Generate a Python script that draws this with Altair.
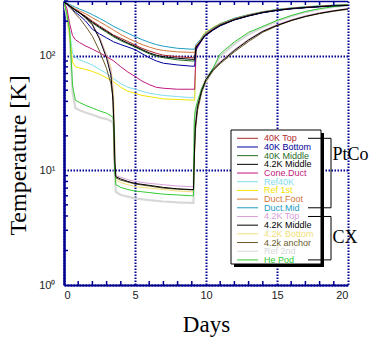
import altair as alt
import pandas as pd

# ---------------- data ----------------
keys = ["40K Top", "40K Bottom", "40K Middle", "4.2K Middle PtCo", "Cone.Duct",
        "Ref40K", "Ref 1st", "Duct.Foot", "Duct.Mid", "4.2K Top", "4.2K Middle CX",
        "4.2K Bottom", "4.2k anchor", "Ref 2nd", "He Pod"]
labels = ["40K Top", "40K Bottom", "40K Middle", "4.2K Middle", "Cone.Duct",
          "Ref40K", "Ref 1st", "Duct.Foot", "Duct.Mid", "4.2K Top", "4.2K Middle",
          "4.2K Bottom", "4.2k anchor", "Ref 2nd", "He Pod"]
colors = ["#B02A2A", "#000099", "#1F6B1F", "#000000", "#C0187C",
          "#7FDDEE", "#F2E400", "#D2773A", "#1E9DC3", "#D8A0D8", "#000000",
          "#F0E07A", "#6B5A2A", "#D8D8D8", "#33CC33"]

# PtCo / reference sensors (warm group)
t_warm = [0, 0.2, 0.4, 0.6, 0.8, 1.1, 1.5, 2.0, 2.5, 3.0, 3.5, 4.0, 4.5, 5.0, 5.5,
          6.0, 6.5, 7.0, 8.0, 9.0, 9.2, 9.3, 9.6, 9.9, 10.5, 11.0, 12.0, 13.0, 14.0,
          15.0, 16.0, 17.0, 18.0, 19.0, 20.0]
duct_mid = [292, 288, 280, 272, 265, 255, 244, 228, 212, 196, 180, 168, 157, 147, 138,
            131, 125, 121, 116, 114, 114, 125, 138, 155, 175, 190, 212, 228, 242,
            253, 261, 267, 272, 276, 279]
duct_foot = [292, 285, 275, 265, 256, 246, 233, 214, 198, 182, 167, 153, 142, 133, 125,
             119, 114, 111, 108, 107, 107, 122, 135, 152, 172, 187, 209, 226, 240,
             251, 259, 265, 270, 274, 277]
k40_top = [292, 284, 272, 261, 251, 238, 222, 200, 182, 166, 151, 142, 133, 124, 116,
           110, 105, 101, 98, 96, 96, 120, 133, 150, 170, 185, 207, 224, 239,
           250, 258, 264, 269, 273, 276]
k40_mid = [292, 283, 271, 259, 249, 235, 217, 193, 175, 160, 146, 135, 127, 119, 111,
           104, 99, 96, 92, 90, 90, 118, 132, 149, 168, 184, 206, 223, 238,
           249, 257, 263, 268, 272, 275]
k42_mid_ptco = [292, 283, 271, 260, 250, 236, 219, 196, 178, 163, 149, 138, 129, 121, 113,
                106, 101, 98, 95, 93, 93, 119, 132, 149, 169, 184, 206, 223, 238,
                249, 257, 263, 268, 272, 275]
k40_bot = [292, 280, 265, 252, 240, 224, 202, 170, 155, 143, 132, 125, 119, 113, 104,
           96, 90, 86, 83, 81, 81, 115, 130, 147, 167, 182, 205, 222, 237,
           248, 256, 262, 267, 271, 274]
cone_duct = [292, 260, 190, 150, 138, 130, 122, 114, 106, 98, 90, 80, 72, 66, 60,
             56, 53, 52, 51, 51, 51, 112, 130, 148, 168, 184, 206, 223, 238,
             249, 257, 263, 268, 272, 275]
ref40k = [292, 240, 165, 105, 97, 92, 88, 83, 76, 70, 63, 57, 53, 51, 49,
          47, 46, 45, 44, 43, 43, 110, 133, 152, 172, 188, 210, 227, 241,
          252, 260, 266, 271, 275, 278]
ref1st = [292, 235, 150, 88, 80, 78, 76, 73, 69, 64, 59, 53, 49, 47, 45,
          44, 43, 42, 41.5, 41, 41, 115, 138, 158, 177, 191, 212, 228, 242,
          252, 260, 266, 271, 275, 278]

# CX sensors and helium pod (cold group)
t_cold = [0, 0.2, 0.4, 0.6, 0.8, 1.1, 1.5, 2.0, 2.5, 3.0, 3.3, 3.45, 3.52, 3.58, 3.65,
          4.0, 4.5, 5.0, 6.0, 7.0, 8.0, 9.0, 9.12, 9.18, 9.25, 9.4, 9.7, 10.0, 10.5,
          11.0, 12.0, 13.0, 14.0, 15.0, 16.0, 17.0, 18.0, 19.0, 20.0]
k42_mid_cx = [294, 285, 272, 260, 250, 237, 215, 186, 140, 95, 68, 40, 25, 12, 8.8,
              8.4, 8.0, 7.7, 7.4, 7.1, 6.9, 6.8, 6.8, 14, 24, 36, 50, 62, 76,
              87, 111, 137, 163, 184, 203, 220, 234, 246, 256]
k42_top = [294, 285, 273, 262, 252, 239, 218, 189, 145, 100, 74, 46, 30, 14, 9.0,
           8.7, 8.3, 8.0, 7.7, 7.5, 7.3, 7.2, 7.2, 15, 25, 37, 52, 64, 78,
           89, 113, 139, 165, 187, 206, 223, 237, 248, 258]
k42_bot = [294, 285, 273, 261, 251, 238, 216, 187, 146, 102, 80, 56, 38, 16, 8.2,
           7.8, 7.5, 7.2, 7.0, 6.8, 6.6, 6.5, 6.5, 13, 23, 35, 50, 63, 77,
           88, 112, 138, 164, 186, 205, 222, 236, 247, 257]
k42_anchor = [294, 283, 269, 250, 232, 212, 182, 148, 110, 77, 57, 44, 14, 9.5, 8.6,
              8.2, 7.9, 7.6, 7.3, 7.0, 6.85, 6.75, 6.75, 13, 22, 33, 48, 60, 74,
              85, 108, 133, 160, 182, 202, 219, 233, 244, 254]
he_pod = [294, 230, 165, 55, 41, 39, 37, 35, 33, 31.5, 30, 29, 25, 10, 7.5,
          7.1, 6.8, 6.6, 6.4, 6.2, 6.1, 6.0, 6.0, 28, 34, 40, 52, 62, 78,
          104, 132, 160, 180, 203, 224, 243, 257, 268, 278]
ref2nd = [294, 220, 150, 48, 35, 33.5, 32, 30.5, 29, 28, 27, 26, 22, 9, 6.5,
          6.1, 5.9, 5.7, 5.5, 5.35, 5.25, 5.2, 5.2, 24, 31, 38, 50, 59, 76,
          99, 127, 154, 177, 200, 221, 240, 254, 266, 276]

y_minor = [2, 3, 4, 5, 6, 7, 8, 9, 20, 30, 40, 50, 60, 70, 80, 90, 200, 300]
x_minor = [1, 2, 3, 4, 6, 7, 8, 9, 11, 12, 13, 14, 16, 17, 18, 19]
groups = ["PtCo", "CX"]
group_first = [0, 9]
group_last = [8, 14]

# ---------------- build tables ----------------
series = [
    ("Ref 2nd", t_cold, ref2nd),
    ("Ref40K", t_warm, ref40k),
    ("Ref 1st", t_warm, ref1st),
    ("4.2K Bottom", t_cold, k42_bot),
    ("4.2K Top", t_cold, k42_top),
    ("Duct.Mid", t_warm, duct_mid),
    ("Duct.Foot", t_warm, duct_foot),
    ("Cone.Duct", t_warm, cone_duct),
    ("40K Top", t_warm, k40_top),
    ("40K Middle", t_warm, k40_mid),
    ("40K Bottom", t_warm, k40_bot),
    ("4.2k anchor", t_cold, k42_anchor),
    ("He Pod", t_cold, he_pod),
    ("4.2K Middle PtCo", t_warm, k42_mid_ptco),
    ("4.2K Middle CX", t_cold, k42_mid_cx),
]
rows = []
for k, ts, vs in series:
    for t, v in zip(ts, vs):
        rows.append({"key": k, "day": t, "T": v, "w": 2.2 if k == "Ref 2nd" else 1.0})
df = pd.DataFrame(rows)

NAVY = "#000090"
color_enc = alt.Color("key:N", scale=alt.Scale(domain=keys, range=colors), legend=None)
xs = alt.Scale(domain=[0, 20], nice=False, zero=False)
ys = alt.Scale(type="log", domain=[1, 300], nice=False)

x_axis = alt.Axis(values=[0, 5, 10, 15, 20], grid=True, gridColor=NAVY, gridDash=[1.5, 1.5],
                  gridWidth=2, domainColor=NAVY, domainWidth=2, ticks=False,
                  labelFont="Liberation Sans", labelFontSize=11, labelColor="#222222",
                  labelPadding=4, title="Days", titleFont="Liberation Serif",
                  titleFontSize=23, titleFontWeight="normal", titleColor="#000000",
                  titleBaseline="alphabetic", titleY=46)
y_axis = alt.Axis(values=[1, 10, 100], grid=True, gridColor=NAVY, gridDash=[1.5, 1.5],
                  gridWidth=2, domainColor=NAVY, domainWidth=2.5, ticks=False,
                  labelFont="Liberation Sans", labelFontSize=11, labelColor="#222222",
                  labelPadding=9,
                  labelExpr="datum.value == 1 ? '10\u2070' : (datum.value == 10 ? '10\u00b9' : '10\u00b2')",
                  title="Temperature [K]", titleFont="Liberation Serif", titleFontSize=24,
                  titleFontWeight="normal", titleColor="#000000", titleAngle=270,
                  titleAlign="center", titleBaseline="middle", titleX=-46, titleY=154)

lines = alt.Chart(df).mark_line(clip=True).encode(
    x=alt.X("day:Q", scale=xs, axis=x_axis),
    y=alt.Y("T:Q", scale=ys, axis=y_axis),
    color=color_enc,
    strokeWidth=alt.StrokeWidth("w:Q", scale=None, legend=None),
)

ymin_df = pd.DataFrame({"T": y_minor})
ytick = alt.Chart(ymin_df).mark_rule(color=NAVY, strokeWidth=1.5).encode(
    y=alt.Y("T:Q", scale=ys), x=alt.value(0), x2=alt.value(4))
xmin_df = pd.DataFrame({"day": x_minor})
xtick_b = alt.Chart(xmin_df).mark_rule(color=NAVY, strokeWidth=1.5).encode(
    x=alt.X("day:Q", scale=xs), y=alt.value(284), y2=alt.value(280))
xtick_t = alt.Chart(xmin_df).mark_rule(color=NAVY, strokeWidth=1.5).encode(
    x=alt.X("day:Q", scale=xs), y=alt.value(0), y2=alt.value(4))
one = pd.DataFrame({"a": [0]})
top_edge = alt.Chart(one).mark_rule(color=NAVY, strokeWidth=1.5).encode(
    x=alt.value(0), x2=alt.value(284), y=alt.value(0.5))

main = alt.layer(lines, ytick, xtick_b, xtick_t, top_edge)

# ---------------- legend ----------------
row_scale = alt.Scale(domain=[0, 14], range=[137.3, 258.9])
leg_df = pd.DataFrame({"key": keys, "label": labels, "row": list(range(len(keys)))})
shadow = alt.Chart(one).mark_rect(fill="#000000").encode(
    x=alt.value(170), x2=alt.value(260), y=alt.value(132), y2=alt.value(266))
box = alt.Chart(one).mark_rect(fill="#FFFFFF", stroke="#000000", strokeWidth=1).encode(
    x=alt.value(167), x2=alt.value(257), y=alt.value(129), y2=alt.value(263))
swatch = alt.Chart(leg_df).mark_rule(strokeWidth=1).encode(
    y=alt.Y("row:Q", scale=row_scale, axis=None), x=alt.value(173), x2=alt.value(194),
    color=color_enc)
leg_text = alt.Chart(leg_df).mark_text(align="left", baseline="middle",
                                       font="Liberation Sans", fontSize=9).encode(
    y=alt.Y("row:Q", scale=row_scale, axis=None), x=alt.value(200), text="label:N",
    color=color_enc)

br_df = pd.DataFrame({"name": groups, "row": group_first, "row2": group_last,
                      "mid": [1.9, 11.45]})
br_h = pd.DataFrame({"row": group_first + group_last})
bracket_h = alt.Chart(br_h).mark_rule(color="#000000", strokeWidth=1).encode(
    y=alt.Y("row:Q", scale=row_scale, axis=None), x=alt.value(244), x2=alt.value(267))
bracket_v = alt.Chart(br_df).mark_rule(color="#000000", strokeWidth=1).encode(
    y=alt.Y("row:Q", scale=row_scale, axis=None), y2="row2:Q", x=alt.value(267))
br_text = alt.Chart(br_df).mark_text(align="left", baseline="middle",
                                     font="Liberation Serif", fontSize=18,
                                     color="#000000").encode(
    y=alt.Y("mid:Q", scale=row_scale, axis=None), x=alt.value(268.5), text="name:N")

legend = alt.layer(shadow, box, swatch, leg_text, bracket_h, bracket_v, br_text)

chart = alt.layer(main, legend).resolve_scale(y="independent").properties(
    width=284, height=284,
    padding={"left": 64, "top": 1, "right": 21, "bottom": 53},
    autosize=alt.AutoSizeParams(type="none"),
    background="#FFFFFF",
).configure_view(stroke=None)

chart.save("out.html", embed_options={"renderer": "svg", "actions": False})
